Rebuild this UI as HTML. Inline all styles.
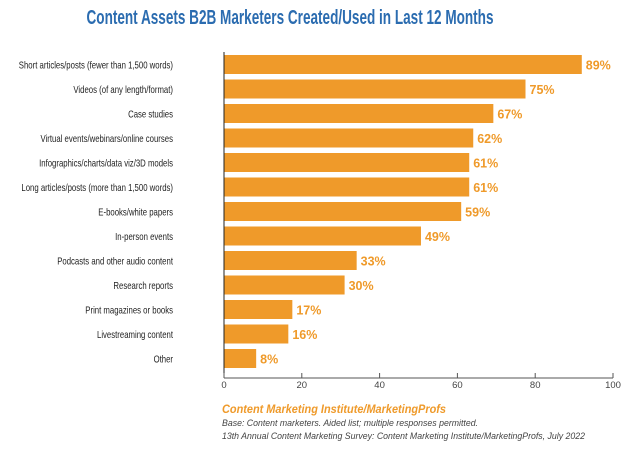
<!DOCTYPE html>
<html><head><meta charset="utf-8"><style>
body{margin:0;background:#fff;width:641px;height:446px;overflow:hidden;font-family:"Liberation Sans",sans-serif}
</style></head><body>
<svg width="641" height="446">
<text x="290" y="24" text-anchor="middle" font-size="20" font-weight="bold" fill="#2b6cb0" textLength="407" lengthAdjust="spacingAndGlyphs">Content Assets B2B Marketers Created/Used in Last 12 Months</text>
<g id="bars"></g>
<g id="axis"></g>
<text x="222" y="413" font-size="11.5" font-weight="bold" font-style="italic" fill="#ef9a2a" textLength="224" lengthAdjust="spacingAndGlyphs">Content Marketing Institute/MarketingProfs</text>
<text x="222" y="426" font-size="9.5" font-style="italic" fill="#444" textLength="256" lengthAdjust="spacingAndGlyphs">Base: Content marketers. Aided list; multiple responses permitted.</text>
<text x="222" y="439" font-size="9.5" font-style="italic" fill="#444" textLength="363" lengthAdjust="spacingAndGlyphs">13th Annual Content Marketing Survey: Content Marketing Institute/MarketingProfs, July 2022</text>
</svg>
<script>
const categories=["Short articles/posts (fewer than 1,500 words)","Videos (of any length/format)","Case studies","Virtual events/webinars/online courses","Infographics/charts/data viz/3D models","Long articles/posts (more than 1,500 words)","E-books/white papers","In-person events","Podcasts and other audio content","Research reports","Print magazines or books","Livestreaming content","Other"];
const values=[89,75,67,62,61,61,59,49,33,30,17,16,8];
const ticks=[0,20,40,60,80,100];
const NS="http://www.w3.org/2000/svg";
const x0=224,x1=613,top0=55,step=24.5,bh=19,axisY=378;
const sx=v=>x0+(x1-x0)*v/100;
const bx=v=>x0+4.02*v;
const sy=i=>top0+i*step;
function mk(t,a){const e=document.createElementNS(NS,t);for(const k in a)e.setAttribute(k,a[k]);return e;}
const g=document.getElementById('bars'),ax=document.getElementById('axis');
categories.forEach((c,i)=>{
 const r=mk('rect',{x:x0,y:sy(i),width:bx(values[i])-x0,height:bh,fill:'#ef9a2a'});
 
 
 g.appendChild(r);
 const l=mk('text',{x:173,y:sy(i)+bh/2+4,'text-anchor':'end','font-size':'10.5',fill:'#222'});
 l.textContent=c;
 
 
 g.appendChild(l);
 const w=l.getComputedTextLength();
 l.setAttribute('textLength',(w*0.74).toFixed(1));
 l.setAttribute('lengthAdjust','spacingAndGlyphs');
 const v=mk('text',{x:bx(values[i])+4,y:sy(i)+bh/2+5,'font-size':'12.5','font-weight':'bold',fill:'#ef9a2a'});
 v.textContent=values[i]+'%';
 
 
 g.appendChild(v);
});
const yl=mk('line',{x1:x0,x2:x0,y1:52,y2:axisY,stroke:'#222','stroke-width':1});


ax.appendChild(yl);
const xl=mk('line',{x1:x0,x2:x1,y1:axisY,y2:axisY,stroke:'#555','stroke-width':1});


ax.appendChild(xl);
ticks.forEach(t=>{
 const tk=mk('line',{x1:sx(t),x2:sx(t),y1:axisY-5,y2:axisY,stroke:'#555'});
 
 
 ax.appendChild(tk);
 const tl=mk('text',{x:sx(t),y:axisY+10,'text-anchor':'middle','font-size':'9.5',fill:'#444'});
 tl.textContent=t;
 
 
 ax.appendChild(tl);
});
</script>
</body></html>
